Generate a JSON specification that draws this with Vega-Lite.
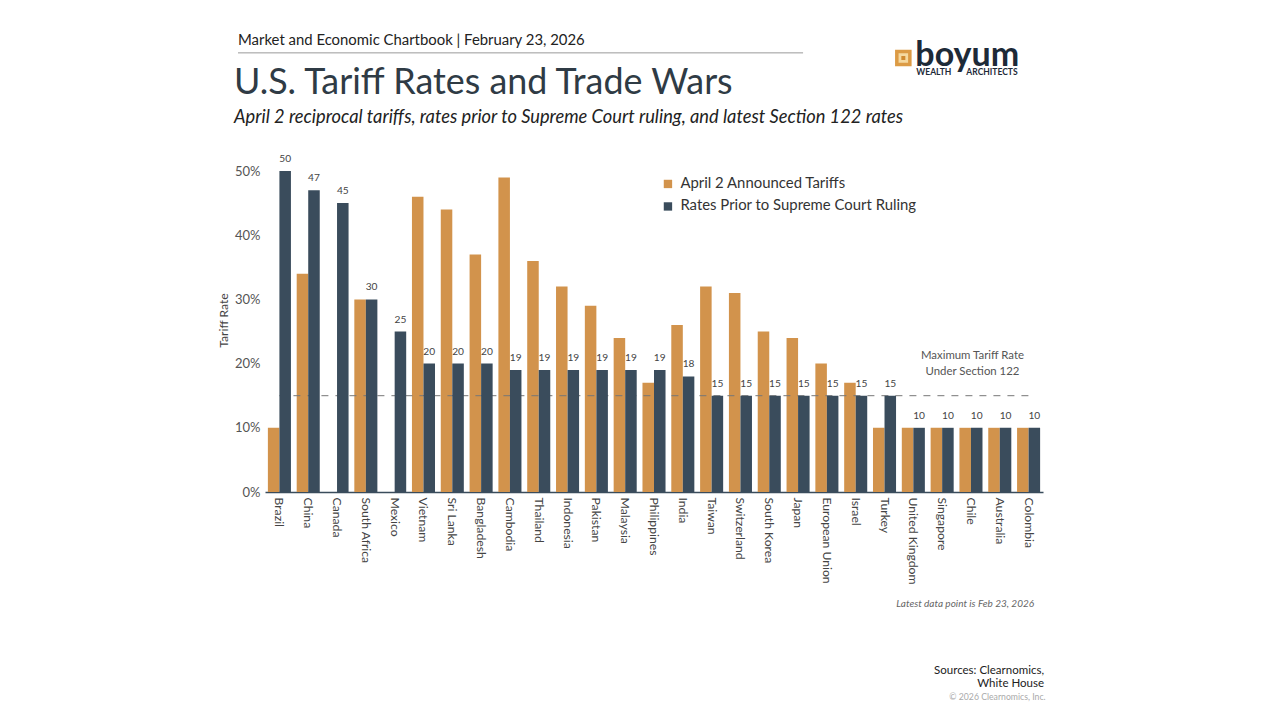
{"$schema":"https://vega.github.io/schema/vega-lite/v6.json","width":778,"height":321,"autosize":{"type":"none"},"padding":{"left":265,"top":171,"right":237,"bottom":228},"background":"white","config":{"font":"Lato","view":{"stroke":null}},
"title":{"text":"U.S. Tariff Rates and Trade Wars","subtitle":"April 2 reciprocal tariffs, rates prior to Supreme Court ruling, and latest Section 122 rates","anchor":"start","frame":"group","dx":-31,"offset":-94,"font":"Lato","fontSize":35.9,"fontWeight":"normal","color":"#2f3b45","subtitleFont":"Lato","subtitleFontSize":18.27,"subtitleFontStyle":"italic","subtitleColor":"#222222","subtitlePadding":7},
"data":{"values":[
{"country":"Brazil","series":"April 2 Announced Tariffs","rate":10},{"country":"China","series":"April 2 Announced Tariffs","rate":34},{"country":"South Africa","series":"April 2 Announced Tariffs","rate":30},{"country":"Vietnam","series":"April 2 Announced Tariffs","rate":46},{"country":"Sri Lanka","series":"April 2 Announced Tariffs","rate":44},{"country":"Bangladesh","series":"April 2 Announced Tariffs","rate":37},{"country":"Cambodia","series":"April 2 Announced Tariffs","rate":49},{"country":"Thailand","series":"April 2 Announced Tariffs","rate":36},{"country":"Indonesia","series":"April 2 Announced Tariffs","rate":32},{"country":"Pakistan","series":"April 2 Announced Tariffs","rate":29},{"country":"Malaysia","series":"April 2 Announced Tariffs","rate":24},{"country":"Philippines","series":"April 2 Announced Tariffs","rate":17},{"country":"India","series":"April 2 Announced Tariffs","rate":26},{"country":"Taiwan","series":"April 2 Announced Tariffs","rate":32},{"country":"Switzerland","series":"April 2 Announced Tariffs","rate":31},{"country":"South Korea","series":"April 2 Announced Tariffs","rate":25},{"country":"Japan","series":"April 2 Announced Tariffs","rate":24},{"country":"European Union","series":"April 2 Announced Tariffs","rate":20},{"country":"Israel","series":"April 2 Announced Tariffs","rate":17},{"country":"Turkey","series":"April 2 Announced Tariffs","rate":10},{"country":"United Kingdom","series":"April 2 Announced Tariffs","rate":10},{"country":"Singapore","series":"April 2 Announced Tariffs","rate":10},{"country":"Chile","series":"April 2 Announced Tariffs","rate":10},{"country":"Australia","series":"April 2 Announced Tariffs","rate":10},{"country":"Colombia","series":"April 2 Announced Tariffs","rate":10},
{"country":"Brazil","series":"Rates Prior to Supreme Court Ruling","rate":50},{"country":"China","series":"Rates Prior to Supreme Court Ruling","rate":47},{"country":"Canada","series":"Rates Prior to Supreme Court Ruling","rate":45},{"country":"South Africa","series":"Rates Prior to Supreme Court Ruling","rate":30},{"country":"Mexico","series":"Rates Prior to Supreme Court Ruling","rate":25},{"country":"Vietnam","series":"Rates Prior to Supreme Court Ruling","rate":20},{"country":"Sri Lanka","series":"Rates Prior to Supreme Court Ruling","rate":20},{"country":"Bangladesh","series":"Rates Prior to Supreme Court Ruling","rate":20},{"country":"Cambodia","series":"Rates Prior to Supreme Court Ruling","rate":19},{"country":"Thailand","series":"Rates Prior to Supreme Court Ruling","rate":19},{"country":"Indonesia","series":"Rates Prior to Supreme Court Ruling","rate":19},{"country":"Pakistan","series":"Rates Prior to Supreme Court Ruling","rate":19},{"country":"Malaysia","series":"Rates Prior to Supreme Court Ruling","rate":19},{"country":"Philippines","series":"Rates Prior to Supreme Court Ruling","rate":19},{"country":"India","series":"Rates Prior to Supreme Court Ruling","rate":18},{"country":"Taiwan","series":"Rates Prior to Supreme Court Ruling","rate":15},{"country":"Switzerland","series":"Rates Prior to Supreme Court Ruling","rate":15},{"country":"South Korea","series":"Rates Prior to Supreme Court Ruling","rate":15},{"country":"Japan","series":"Rates Prior to Supreme Court Ruling","rate":15},{"country":"European Union","series":"Rates Prior to Supreme Court Ruling","rate":15},{"country":"Israel","series":"Rates Prior to Supreme Court Ruling","rate":15},{"country":"Turkey","series":"Rates Prior to Supreme Court Ruling","rate":15},{"country":"United Kingdom","series":"Rates Prior to Supreme Court Ruling","rate":10},{"country":"Singapore","series":"Rates Prior to Supreme Court Ruling","rate":10},{"country":"Chile","series":"Rates Prior to Supreme Court Ruling","rate":10},{"country":"Australia","series":"Rates Prior to Supreme Court Ruling","rate":10},{"country":"Colombia","series":"Rates Prior to Supreme Court Ruling","rate":10}
]},
"encoding":{
"x":{"field":"country","type":"nominal","title":null,"scale":{"domain":["Brazil","China","Canada","South Africa","Mexico","Vietnam","Sri Lanka","Bangladesh","Cambodia","Thailand","Indonesia","Pakistan","Malaysia","Philippines","India","Taiwan","Switzerland","South Korea","Japan","European Union","Israel","Turkey","United Kingdom","Singapore","Chile","Australia","Colombia"],"paddingInner":0.2,"paddingOuter":0.1},"axis":{"labelAngle":90,"labelFontSize":12.2,"labelColor":"#444444","labelPadding":5,"ticks":false,"domainColor":"#3a4c5c","domainWidth":1.5,"grid":false,"labelOverlap":false}},
"y":{"field":"rate","type":"quantitative","title":"Tariff Rate","scale":{"domain":[0,50],"nice":false},"axis":{"values":[0,10,20,30,40,50],"labelExpr":"datum.value + '%'","labelFontSize":13,"labelColor":"#555555","labelPadding":5,"ticks":false,"domain":false,"grid":false,"titleFontSize":12.2,"titleFontWeight":"normal","titleColor":"#444444","titlePadding":4,"titleY":149}}
},
"layer":[
{"transform":[{"filter":"datum.series === 'April 2 Announced Tariffs'"}],"mark":{"type":"bar"},"encoding":{"xOffset":{"field":"series","scale":{"domain":["April 2 Announced Tariffs","Rates Prior to Supreme Court Ruling"],"paddingInner":0,"paddingOuter":0}},"color":{"field":"series","scale":{"domain":["April 2 Announced Tariffs","Rates Prior to Supreme Court Ruling"],"range":["#d2934c","#3a4c5c"]},"legend":{"orient":"none","legendX":395.5,"legendY":5.5,"title":null,"symbolType":"square","symbolSize":70,"symbolStrokeWidth":0,"labelFontSize":14.9,"labelColor":"#333333","labelLimit":320,"rowPadding":6.5,"padding":0,"labelOffset":5}}}},
{"data":{"values":[{"from":"Brazil","to":"Colombia","cap":15}]},"mark":{"type":"rule","strokeDash":[7,7],"color":"#777777","strokeWidth":1},"encoding":{"x":{"field":"from"},"x2":{"field":"to"},"y":{"field":"cap"}}},
{"transform":[{"filter":"datum.series === 'Rates Prior to Supreme Court Ruling'"}],"mark":{"type":"bar"},"encoding":{"xOffset":{"field":"series"},"color":{"field":"series"}}},
{"transform":[{"filter":"datum.series === 'Rates Prior to Supreme Court Ruling'"}],"mark":{"type":"text","baseline":"bottom","dy":-7,"fontSize":10.2,"color":"#444444"},"encoding":{"xOffset":{"field":"series"},"text":{"field":"rate"}}},
{"data":{"values":[{"label":"Maximum Tariff Rate","anchor":"Chile","level":21.15},{"label":"Under Section 122","anchor":"Chile","level":18.65}]},"mark":{"type":"text","fontSize":11.4,"color":"#555555","dx":1.5},"encoding":{"x":{"field":"anchor"},"y":{"field":"level"},"text":{"field":"label"}}},
{"data":{"values":[{"label":"Market and Economic Chartbook | February 23, 2026","anchor":"Brazil","level":70.25}]},"mark":{"type":"text","fontSize":14.9,"align":"left","color":"#222222","dx":-41.4},"encoding":{"x":{"field":"anchor"},"y":{"field":"level"},"text":{"field":"label"}}},
{"data":{"values":[{"from":"Brazil","to":"Japan","level":68.4}]},"mark":{"type":"rule","color":"#999999","strokeWidth":1,"xOffset":-41.4,"x2Offset":5},"encoding":{"x":{"field":"from"},"x2":{"field":"to"},"y":{"field":"level"}}},
{"data":{"values":[{"label":"Latest data point is Feb 23, 2026","anchor":"Colombia","level":-17.45}]},"mark":{"type":"text","fontSize":10,"fontStyle":"italic","align":"right","color":"#666666","dx":5.5},"encoding":{"x":{"field":"anchor"},"y":{"field":"level"},"text":{"field":"label"}}},
{"data":{"values":[{"label":"Sources: Clearnomics,","anchor":"Colombia","level":-27.85},{"label":"White House","anchor":"Colombia","level":-29.85}]},"mark":{"type":"text","fontSize":11.5,"align":"right","color":"#222222","dx":15.4},"encoding":{"x":{"field":"anchor"},"y":{"field":"level"},"text":{"field":"label"}}},
{"data":{"values":[{"label":"© 2026 Clearnomics, Inc.","anchor":"Colombia","level":-32}]},"mark":{"type":"text","fontSize":8.7,"align":"right","color":"#aaaaaa","dx":17},"encoding":{"x":{"field":"anchor"},"y":{"field":"level"},"text":{"field":"label"}}},
{"data":{"values":[{"anchor":"United Kingdom","level":67.6}]},"mark":{"type":"point","shape":"square","size":170,"filled":true,"opacity":1,"fill":"#f5d9a0","stroke":"#dc9b45","strokeWidth":3.5,"xOffset":-10},"encoding":{"x":{"field":"anchor"},"y":{"field":"level"}}},
{"data":{"values":[{"anchor":"United Kingdom","level":67.6}]},"mark":{"type":"point","shape":"square","size":16,"filled":true,"opacity":1,"fill":"#d08a30","xOffset":-10},"encoding":{"x":{"field":"anchor"},"y":{"field":"level"}}},
{"data":{"values":[{"label":"boyum","anchor":"United Kingdom","level":67.9}]},"mark":{"type":"text","fontSize":34,"fontWeight":"bold","align":"left","color":"#1d2a38","dx":2,"font":"Lato"},"encoding":{"x":{"field":"anchor"},"y":{"field":"level"},"text":{"field":"label"}}},
{"data":{"values":[{"label":"WEALTH","anchor":"United Kingdom","level":65.4}]},"mark":{"type":"text","fontSize":8.5,"align":"left","color":"#1d2a38","dx":3,"fontWeight":"bold"},"encoding":{"x":{"field":"anchor"},"y":{"field":"level"},"text":{"field":"label"}}},
{"data":{"values":[{"label":"ARCHITECTS","anchor":"Colombia","level":65.4}]},"mark":{"type":"text","fontSize":8.5,"align":"right","color":"#1d2a38","dx":-11,"fontWeight":"bold"},"encoding":{"x":{"field":"anchor"},"y":{"field":"level"},"text":{"field":"label"}}}
]}
